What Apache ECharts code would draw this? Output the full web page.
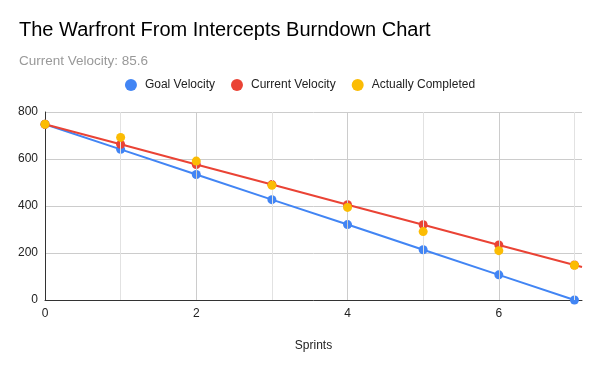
<!DOCTYPE html>
<html><head><meta charset="utf-8">
<script src="https://cdn.jsdelivr.net/npm/echarts@6/dist/echarts.min.js"></script>
<style>html,body{margin:0;padding:0;background:#fff}#c{width:600px;height:371px}</style>
</head><body><div id="c"></div>
<script>
const sprints = [0, 1, 2, 3, 4, 5, 6, 7];
const goalVelocity = [748, 641, 534, 427, 321, 214, 107, 0];
const currentVelocity = [748, 662.4, 576.8, 491.2, 405.6, 320, 234.4, 148.8];
const actuallyCompleted = [748, 692, 591, 488, 394, 291, 210, 148];
const xTickLabels = [0, 2, 4, 6];
const yTicks = [0, 200, 400, 600, 800];
const xMax = 7.1;

const pair = (xs, ys) => xs.map((x, i) => [x, ys[i]]);
const font = 'Arial, "Liberation Sans", sans-serif';

// trend continuation of the current-velocity line to the plot edge
const n = currentVelocity.length;
const slope = currentVelocity[n - 1] - currentVelocity[n - 2];
const trendEnd = currentVelocity[n - 1] + slope * (xMax - sprints[n - 1]);

const chart = echarts.init(document.getElementById('c'), null, {renderer: 'canvas'});
chart.setOption({
  animation: false,
  backgroundColor: '#fff',
  title: {
    text: 'The Warfront From Intercepts Burndown Chart',
    subtext: 'Current Velocity: 85.6',
    left: 19, top: 20, padding: 0,
    itemGap: 14,
    textStyle: {fontFamily: font, fontSize: 20, lineHeight: 20, fontWeight: 'normal', color: '#000'},
    subtextStyle: {fontFamily: font, fontSize: 13.5, lineHeight: 14, color: '#999'}
  },
  legend: {
    top: 79, left: 'center', padding: 0,
    icon: 'circle', itemWidth: 12, itemHeight: 12, itemGap: 16,
    textStyle: {fontFamily: font, fontSize: 12, color: '#222', padding: [0, 0, 0, 3]},
    data: ['Goal Velocity', 'Current Velocity', 'Actually Completed']
  },
  grid: {left: 45, right: 18, top: 112, bottom: 71},
  xAxis: {
    type: 'value', min: 0, max: xMax, interval: 1,
    name: 'Sprints', nameLocation: 'middle', nameGap: 40,
    nameTextStyle: {fontFamily: font, fontSize: 12, color: '#222'},
    axisLine: {show: true, lineStyle: {color: '#333', width: 1}},
    axisTick: {show: false},
    splitLine: {show: false},
    axisLabel: {
      fontFamily: font, fontSize: 12, color: '#222', margin: 8,
      showMaxLabel: false,
      formatter: v => xTickLabels.includes(v) ? String(v) : ''
    }
  },
  yAxis: {
    type: 'value', min: 0, max: 800, interval: 200,
    axisLine: {show: true, lineStyle: {color: '#333', width: 1}},
    axisTick: {show: false},
    splitLine: {show: true, lineStyle: {color: '#ccc', width: 1}},
    axisLabel: {fontFamily: font, fontSize: 12, color: '#222', margin: 7,
      formatter: v => yTicks.includes(v) ? String(v) : ''}
  },
  series: [
    {
      name: 'grid', type: 'line', data: [], silent: true,
      markLine: {
        silent: true, symbol: 'none', label: {show: false}, animation: false,
        data: sprints.filter(s => s > 0).map(s => ({
          xAxis: s,
          lineStyle: {color: s % 2 === 0 ? '#ccc' : '#e2e2e2', width: 1, type: 'solid'}
        }))
      },
      z: 1
    },
    {
      name: 'Goal Velocity', type: 'line', data: pair(sprints, goalVelocity),
      color: '#4285f4', symbol: 'circle', symbolSize: 9,
      lineStyle: {width: 2}, z: 3
    },
    {
      name: 'Current Velocity', type: 'line', data: pair(sprints, currentVelocity),
      color: '#ea4335', symbol: 'circle', symbolSize: 9,
      lineStyle: {width: 2}, z: 4,
      markLine: {
        silent: true, symbol: 'none', label: {show: false}, animation: false,
        lineStyle: {color: '#ea4335', width: 2, type: 'solid'},
        data: [[{coord: [sprints[n - 1], currentVelocity[n - 1]]}, {coord: [xMax, trendEnd]}]]
      }
    },
    {
      name: 'Actually Completed', type: 'scatter', data: pair(sprints, actuallyCompleted),
      color: '#fbbc04', symbol: 'circle', symbolSize: 9, itemStyle: {opacity: 1}, z: 5
    }
  ]
});
</script></body></html>
